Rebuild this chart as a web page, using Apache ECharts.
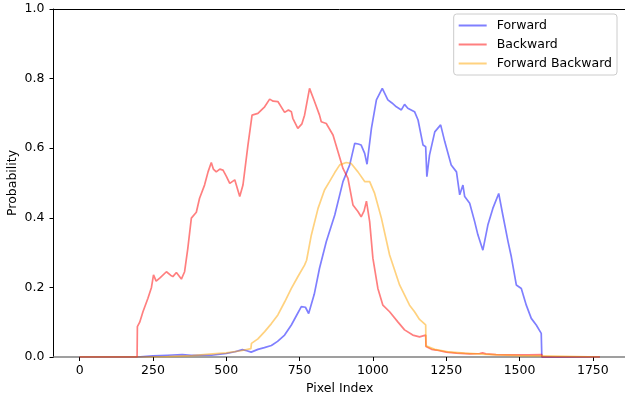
<!DOCTYPE html>
<html>
<head>
<meta charset="utf-8">
<script src="https://cdn.jsdelivr.net/npm/echarts@6/dist/echarts.min.js"></script>
<style>
  html, body { margin: 0; padding: 0; background: #ffffff; }
  #chart { width: 625px; height: 401px; }
</style>
</head>
<body>
<div id="chart"></div>
<script>
// Tick positions
const xTicks = [0, 250, 500, 750, 1000, 1250, 1500, 1750];
const yTicks = [0, 0.2, 0.4, 0.6, 0.8, 1.0];

// Forward probability along the pixel index
const forwardX = [0, 196, 197, 250, 300, 350, 380, 450, 500, 530, 555, 570, 585, 608, 630, 654, 675, 699, 722, 740, 756, 770, 781, 800, 818, 841, 870, 898, 921, 938, 950, 960, 972, 980, 995, 1012, 1032, 1051, 1065, 1080, 1097, 1108, 1119, 1142, 1154, 1171, 1180, 1184, 1193, 1211, 1231, 1245, 1267, 1285, 1296, 1307, 1313, 1330, 1347, 1358, 1375, 1392, 1409, 1429, 1443, 1461, 1472, 1489, 1506, 1523, 1540, 1557, 1574, 1576, 1774];
const forwardY = [0, 0, 0.002, 0.003, 0.005, 0.007, 0.005, 0.005, 0.01, 0.015, 0.021, 0.018, 0.014, 0.022, 0.027, 0.033, 0.045, 0.063, 0.092, 0.12, 0.145, 0.143, 0.125, 0.18, 0.255, 0.331, 0.408, 0.504, 0.552, 0.614, 0.612, 0.609, 0.585, 0.554, 0.657, 0.739, 0.772, 0.739, 0.73, 0.719, 0.71, 0.726, 0.715, 0.705, 0.681, 0.609, 0.604, 0.518, 0.58, 0.647, 0.667, 0.619, 0.552, 0.532, 0.466, 0.494, 0.461, 0.442, 0.389, 0.351, 0.307, 0.379, 0.427, 0.47, 0.408, 0.331, 0.288, 0.207, 0.197, 0.149, 0.111, 0.092, 0.068, 0, 0];

// Backward probability
const backwardX = [0, 196, 197, 205, 216, 233, 245, 252, 261, 275, 296, 310, 318, 330, 347, 358, 369, 381, 398, 409, 426, 438, 449, 456, 466, 478, 489, 500, 512, 529, 546, 557, 574, 588, 608, 631, 648, 660, 676, 699, 712, 722, 727, 744, 758, 767, 784, 801, 818, 824, 841, 864, 881, 898, 915, 932, 949, 960, 970, 978, 989, 1000, 1017, 1034, 1057, 1085, 1108, 1136, 1159, 1165, 1180, 1181, 1200, 1216, 1250, 1285, 1330, 1364, 1374, 1385, 1420, 1477, 1530, 1576, 1577, 1774];
const backwardY = [0, 0, 0.087, 0.1, 0.13, 0.169, 0.2, 0.236, 0.218, 0.228, 0.245, 0.235, 0.231, 0.243, 0.224, 0.245, 0.312, 0.399, 0.416, 0.456, 0.494, 0.532, 0.559, 0.54, 0.532, 0.54, 0.537, 0.52, 0.499, 0.509, 0.461, 0.494, 0.609, 0.695, 0.7, 0.719, 0.741, 0.735, 0.734, 0.703, 0.71, 0.705, 0.686, 0.657, 0.67, 0.695, 0.772, 0.734, 0.695, 0.676, 0.671, 0.638, 0.59, 0.542, 0.513, 0.437, 0.418, 0.403, 0.42, 0.448, 0.389, 0.284, 0.197, 0.149, 0.13, 0.101, 0.078, 0.063, 0.058, 0.054, 0.063, 0.03, 0.022, 0.02, 0.014, 0.011, 0.009, 0.01, 0.012, 0.009, 0.007, 0.006, 0.006, 0.007, 0, 0];

// Combined forward-backward probability
const fbX = [0, 196, 197, 300, 385, 443, 500, 550, 584, 586, 608, 631, 654, 676, 699, 722, 745, 767, 774, 790, 813, 835, 852, 870, 887, 909, 926, 949, 972, 989, 1006, 1029, 1057, 1091, 1125, 1142, 1159, 1180, 1181, 1211, 1256, 1313, 1370, 1426, 1500, 1576, 1577, 1774];
const fbY = [0, 0, 0, 0.001, 0.004, 0.008, 0.012, 0.018, 0.024, 0.039, 0.052, 0.073, 0.096, 0.121, 0.158, 0.197, 0.232, 0.264, 0.278, 0.35, 0.427, 0.48, 0.504, 0.53, 0.552, 0.559, 0.556, 0.532, 0.504, 0.504, 0.47, 0.399, 0.293, 0.207, 0.149, 0.13, 0.108, 0.092, 0.032, 0.022, 0.015, 0.011, 0.008, 0.006, 0.004, 0.003, 0, 0];

const seriesNames = ['Forward', 'Backward', 'Forward Backward'];
const seriesColors = ['rgba(0,0,255,0.5)', 'rgba(255,0,0,0.5)', 'rgba(255,165,0,0.5)'];

function pairs(xs, ys) {
  return xs.map((x, i) => [x, ys[i]]);
}

const FONT = 'DejaVu Sans';
const chart = echarts.init(document.getElementById('chart'), null, { renderer: 'canvas' });

const lineSeries = [
  pairs(forwardX, forwardY),
  pairs(backwardX, backwardY),
  pairs(fbX, fbY)
].map((data, i) => ({
  name: seriesNames[i],
  type: 'line',
  data: data,
  symbol: 'none',
  showSymbol: false,
  color: seriesColors[i],
  lineStyle: { width: 1.7, color: seriesColors[i] },
  xAxisIndex: 0,
  yAxisIndex: 0,
  z: 3 + i
}));

chart.setOption({
  animation: false,
  backgroundColor: '#ffffff',
  textStyle: { fontFamily: FONT },
  grid: { left: 53.5, top: 9, width: 572.5, height: 348, containLabel: false, outerBoundsMode: 'none' },
  legend: {
    orient: 'vertical',
    right: 8,
    top: 14,
    data: seriesNames,
    icon: 'rect',
    itemWidth: 28,
    itemHeight: 2,
    itemGap: 6,
    padding: [5, 5, 5, 5],
    backgroundColor: 'rgba(255,255,255,0.8)',
    borderColor: '#cccccc',
    borderWidth: 1,
    borderRadius: 3,
    textStyle: { fontFamily: FONT, fontSize: 12.5, color: '#000', padding: [0, 0, 0, 5] }
  },
  xAxis: [{
    type: 'value',
    min: -89,
    max: 1863,
    name: 'Pixel Index',
    nameLocation: 'middle',
    nameGap: 25,
    nameMoveOverlap: false,
    nameTextStyle: { fontFamily: FONT, fontSize: 12.5, color: '#000' },
    axisLine: { show: true, onZero: false, lineStyle: { color: '#808080', width: 1.5 } },
    axisTick: { show: true, length: 4, customValues: xTicks, lineStyle: { color: '#000' } },
    axisLabel: {
      customValues: xTicks,
      margin: 7,
      fontFamily: FONT,
      fontSize: 12.5,
      color: '#000',
      formatter: v => String(v)
    },
    splitLine: { show: false }
  }, {
    type: 'value',
    position: 'top',
    min: -89,
    max: 1863,
    axisLine: { show: true, onZero: false, lineStyle: { color: '#000', width: 1 } },
    axisTick: { show: false },
    axisLabel: { show: false },
    splitLine: { show: false }
  }],
  yAxis: {
    type: 'value',
    min: 0,
    max: 1,
    interval: 0.2,
    name: 'Probability',
    nameLocation: 'middle',
    nameGap: 41,
    nameRotate: 90,
    nameMoveOverlap: false,
    nameTextStyle: { fontFamily: FONT, fontSize: 12.5, color: '#000', verticalAlign: 'middle' },
    axisLine: { show: true, onZero: false, lineStyle: { color: '#000', width: 1 } },
    axisTick: { show: true, length: 4, customValues: yTicks, lineStyle: { color: '#000' } },
    axisLabel: {
      customValues: yTicks,
      margin: 9,
      fontFamily: FONT,
      fontSize: 12.5,
      color: '#000',
      formatter: v => v.toFixed(1)
    },
    splitLine: { show: false }
  },
  series: lineSeries
});
</script>
</body>
</html>
